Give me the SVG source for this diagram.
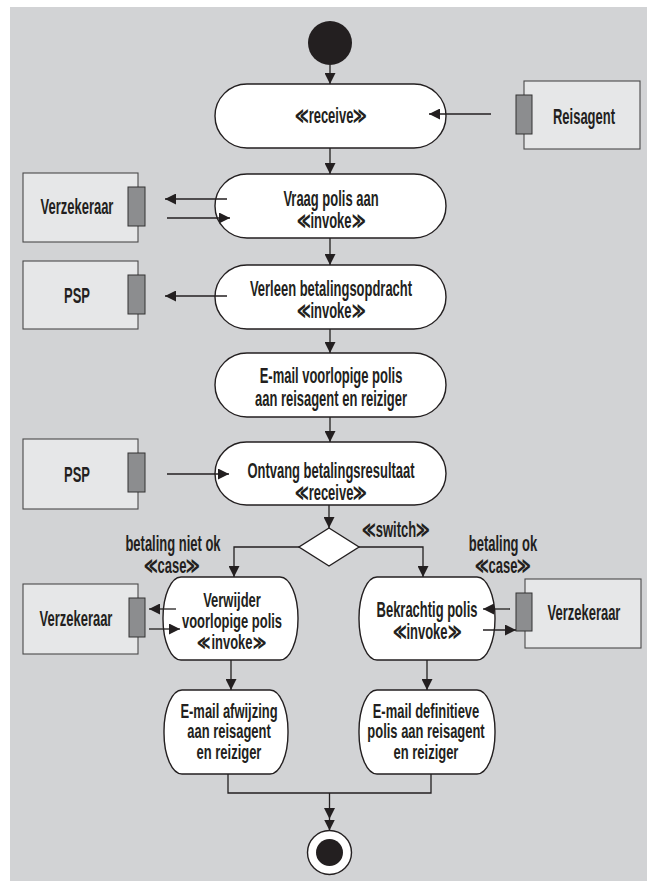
<svg xmlns="http://www.w3.org/2000/svg" width="647" height="881" viewBox="0 0 647 881">
<style>
.bg{fill:#d2d3d5}
.act{fill:#ffffff;stroke:#231f20;stroke-width:1.4}
.part{fill:#e6e7e8;stroke:#4a4a4a;stroke-width:1.1}
.pin{fill:#8c8d8f;stroke:#333;stroke-width:1}
.ln{fill:none;stroke:#231f20;stroke-width:1.3}
.dec{fill:#ffffff;stroke:#231f20;stroke-width:1.4}
text{font-family:"Liberation Sans",Arial,sans-serif;font-weight:bold;font-size:22px;fill:#231f20;text-anchor:middle}
text.s{font-size:19.5px}
</style>
<defs>
<marker id="ah" viewBox="0 0 10 10" refX="10" refY="5" markerWidth="11" markerHeight="11" markerUnits="userSpaceOnUse" orient="auto">
<path d="M0,0 L10,5 L0,10 z" fill="#231f20"/>
</marker>
</defs>
<rect class="bg" x="10" y="7" width="637" height="874"/>

<g id="start"><circle cx="330" cy="43" r="22" fill="#231f20"/></g>

<g id="receive">
<rect class="act" x="215" y="84" width="231" height="64" rx="32" ry="32"/>
<text transform="translate(331 0) scale(.59 1)" x="0" y="123">≪receive≫</text>
</g>

<g id="reisagent">
<rect class="part" x="524" y="81" width="116" height="68"/>
<rect class="pin" x="516" y="95" width="16" height="39"/>
<text transform="translate(584 0) scale(.59 1)" x="0" y="124">Reisagent</text>
</g>

<g id="vraag">
<rect class="act" x="215" y="174" width="231" height="64" rx="32" ry="32"/>
<text transform="translate(331 0) scale(.59 1)" x="0" y="206">Vraag polis aan</text>
<text transform="translate(331 0) scale(.59 1)" x="0" y="228">≪invoke≫</text>
</g>

<g id="verzekeraar1">
<rect class="part" x="23" y="173" width="115" height="69"/>
<rect class="pin" x="128" y="187" width="17" height="39"/>
<text transform="translate(77 0) scale(.59 1)" x="0" y="214">Verzekeraar</text>
</g>

<g id="verleen">
<rect class="act" x="215" y="265" width="231" height="64" rx="32" ry="32"/>
<text transform="translate(331 0) scale(.59 1)" x="0" y="296">Verleen betalingsopdracht</text>
<text transform="translate(331 0) scale(.59 1)" x="0" y="318">≪invoke≫</text>
</g>

<g id="psp1">
<rect class="part" x="23" y="261" width="115" height="68"/>
<rect class="pin" x="128" y="275" width="17" height="39"/>
<text transform="translate(77 0) scale(.59 1)" x="0" y="303">PSP</text>
</g>

<g id="email1">
<rect class="act" x="215" y="353" width="231" height="64" rx="32" ry="32"/>
<text transform="translate(331 0) scale(.59 1)" x="0" y="383">E-mail voorlopige polis</text>
<text transform="translate(331 0) scale(.59 1)" x="0" y="406">aan reisagent en reiziger</text>
</g>

<g id="ontvang">
<rect class="act" x="215" y="442" width="231" height="63" rx="31.5" ry="31.5"/>
<text transform="translate(331 0) scale(.59 1)" x="0" y="478">Ontvang betalingsresultaat</text>
<text transform="translate(331 0) scale(.59 1)" x="0" y="500">≪receive≫</text>
</g>

<g id="psp2">
<rect class="part" x="23" y="439" width="115" height="70"/>
<rect class="pin" x="128" y="453" width="17" height="39"/>
<text transform="translate(77 0) scale(.59 1)" x="0" y="482">PSP</text>
</g>

<g id="switch">
<polygon class="dec" points="329,528 359,547 329,566 299,547"/>
<text transform="translate(396 0) scale(.59 1)" x="0" y="537">≪switch≫</text>
</g>

<g id="case-left">
<text transform="translate(173 0) scale(.59 1)" x="0" y="551">betaling niet ok</text>
<text transform="translate(172 0) scale(.59 1)" x="0" y="573">≪case≫</text>
</g>

<g id="case-right">
<text transform="translate(503 0) scale(.59 1)" x="0" y="551">betaling ok</text>
<text transform="translate(503 0) scale(.59 1)" x="0" y="573">≪case≫</text>
</g>

<g id="verwijder">
<rect class="act" x="163" y="577" width="135" height="83" rx="18" ry="41"/>
<text class="s" transform="translate(232 0) scale(.665 1)" x="0" y="607">Verwijder</text>
<text class="s" transform="translate(232 0) scale(.665 1)" x="0" y="628">voorlopige polis</text>
<text class="s" transform="translate(232 0) scale(.665 1)" x="0" y="649">≪invoke≫</text>
</g>

<g id="verzekeraar2">
<rect class="part" x="23" y="584" width="115" height="70"/>
<rect class="pin" x="129" y="598" width="16" height="39"/>
<text transform="translate(76 0) scale(.59 1)" x="0" y="626">Verzekeraar</text>
</g>

<g id="bekrachtig">
<rect class="act" x="359" y="577" width="136" height="83" rx="18" ry="41"/>
<text transform="translate(427 0) scale(.59 1)" x="0" y="617">Bekrachtig polis</text>
<text transform="translate(427 0) scale(.59 1)" x="0" y="639">≪invoke≫</text>
</g>

<g id="verzekeraar3">
<rect class="part" x="525" y="579" width="116" height="69"/>
<rect class="pin" x="516" y="593" width="16" height="38"/>
<text transform="translate(584 0) scale(.59 1)" x="0" y="620">Verzekeraar</text>
</g>

<g id="afwijzing">
<rect class="act" x="164" y="690" width="124" height="84" rx="18" ry="41"/>
<text class="s" transform="translate(229 0) scale(.665 1)" x="0" y="718">E-mail afwijzing</text>
<text class="s" transform="translate(229 0) scale(.665 1)" x="0" y="738.5">aan reisagent</text>
<text class="s" transform="translate(229 0) scale(.665 1)" x="0" y="759">en reiziger</text>
</g>

<g id="definitief">
<rect class="act" x="359" y="690" width="136" height="84" rx="18" ry="41"/>
<text class="s" transform="translate(426 0) scale(.665 1)" x="0" y="718">E-mail definitieve</text>
<text class="s" transform="translate(426 0) scale(.665 1)" x="0" y="738.5">polis aan reisagent</text>
<text class="s" transform="translate(426 0) scale(.665 1)" x="0" y="759">en reiziger</text>
</g>

<g id="end">
<circle cx="329.5" cy="852.5" r="22" fill="#ffffff" stroke="#231f20" stroke-width="1.4"/>
<circle cx="329.5" cy="852.5" r="13.5" fill="#231f20"/>
</g>

<g id="connectors">
<path class="ln" d="M330,65 V84" marker-end="url(#ah)"/>
<path class="ln" d="M330,148 V174" marker-end="url(#ah)"/>
<path class="ln" d="M330,238 V265" marker-end="url(#ah)"/>
<path class="ln" d="M330,329 V353" marker-end="url(#ah)"/>
<path class="ln" d="M330,417 V442" marker-end="url(#ah)"/>
<path class="ln" d="M329,505 V528" marker-end="url(#ah)"/>
<path class="ln" d="M491,114 H429" marker-end="url(#ah)"/>
<path class="ln" d="M227,199 H165" marker-end="url(#ah)"/>
<path class="ln" d="M167,218 H230" marker-end="url(#ah)"/>
<path class="ln" d="M227,296 H165" marker-end="url(#ah)"/>
<path class="ln" d="M167,474 H229" marker-end="url(#ah)"/>
<path class="ln" d="M299,547 H234 V577" marker-end="url(#ah)"/>
<path class="ln" d="M359,547 H423 V577" marker-end="url(#ah)"/>
<path class="ln" d="M176,609 H149" marker-end="url(#ah)"/>
<path class="ln" d="M149,629 H180" marker-end="url(#ah)"/>
<path class="ln" d="M510,609 H483" marker-end="url(#ah)"/>
<path class="ln" d="M483,630 H516" marker-end="url(#ah)"/>
<path class="ln" d="M231,660 V690" marker-end="url(#ah)"/>
<path class="ln" d="M427,660 V690" marker-end="url(#ah)"/>
<path class="ln" d="M228,774 V793 H431 V774"/>
<path class="ln" d="M329.5,793 V819" marker-end="url(#ah)"/>
<path class="ln" d="M329.5,819 V830.5" marker-end="url(#ah)"/>
</g>
</svg>
